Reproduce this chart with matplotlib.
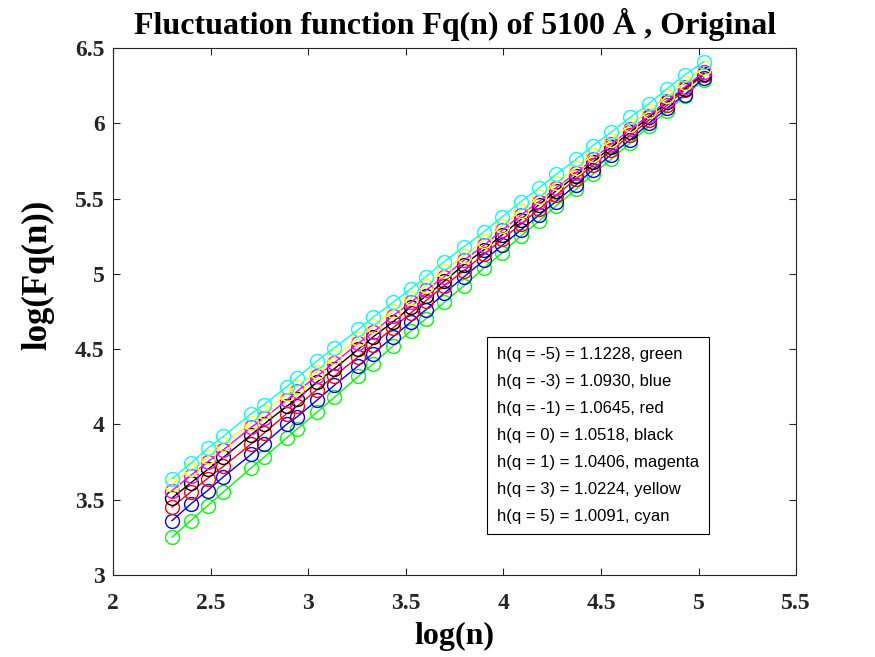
import matplotlib
matplotlib.use("Agg")
import matplotlib.pyplot as plt

log_n = [2.303, 2.398, 2.485, 2.565, 2.708, 2.773, 2.890, 2.944, 3.045, 3.135,
         3.258, 3.332, 3.434, 3.526, 3.602, 3.696, 3.798, 3.901, 3.995, 4.089,
         4.183, 4.269, 4.372, 4.457, 4.551, 4.650, 4.745, 4.839, 4.928, 5.027]

fq_green = [3.25, 3.36, 3.46, 3.55, 3.71, 3.78, 3.91, 3.97, 4.08, 4.18,
            4.32, 4.40, 4.52, 4.62, 4.70, 4.81, 4.92, 5.04, 5.14, 5.25,
            5.35, 5.45, 5.56, 5.66, 5.76, 5.87, 5.98, 6.08, 6.18, 6.29]
fq_blue = [3.36, 3.47, 3.56, 3.65, 3.80, 3.87, 4.00, 4.05, 4.16, 4.26,
           4.39, 4.47, 4.58, 4.68, 4.76, 4.87, 4.98, 5.09, 5.19, 5.29,
           5.39, 5.48, 5.59, 5.69, 5.79, 5.89, 6.00, 6.10, 6.19, 6.30]
fq_red = [3.45, 3.55, 3.64, 3.72, 3.87, 3.94, 4.07, 4.12, 4.23, 4.32,
          4.45, 4.53, 4.64, 4.74, 4.82, 4.92, 5.02, 5.13, 5.23, 5.33,
          5.43, 5.52, 5.63, 5.72, 5.82, 5.92, 6.02, 6.12, 6.22, 6.32]
fq_black = [3.51, 3.61, 3.70, 3.78, 3.93, 4.00, 4.12, 4.17, 4.28, 4.37,
            4.50, 4.58, 4.68, 4.78, 4.85, 4.95, 5.06, 5.16, 5.26, 5.36,
            5.46, 5.55, 5.65, 5.74, 5.84, 5.94, 6.04, 6.14, 6.23, 6.33]
fq_magenta = [3.56, 3.66, 3.75, 3.83, 3.98, 4.04, 4.16, 4.22, 4.32, 4.41,
              4.54, 4.61, 4.72, 4.81, 4.89, 4.98, 5.09, 5.19, 5.29, 5.39,
              5.48, 5.57, 5.67, 5.76, 5.86, 5.96, 6.05, 6.15, 6.24, 6.34]
fq_yellow = [3.60, 3.70, 3.78, 3.87, 4.01, 4.08, 4.20, 4.25, 4.35, 4.45,
             4.57, 4.65, 4.75, 4.84, 4.92, 5.02, 5.12, 5.22, 5.32, 5.42,
             5.51, 5.60, 5.70, 5.79, 5.89, 5.99, 6.08, 6.18, 6.27, 6.37]
fq_cyan = [3.64, 3.74, 3.84, 3.92, 4.07, 4.13, 4.25, 4.31, 4.42, 4.51,
           4.63, 4.71, 4.81, 4.90, 4.98, 5.08, 5.18, 5.28, 5.38, 5.48,
           5.57, 5.66, 5.76, 5.85, 5.94, 6.04, 6.13, 6.23, 6.32, 6.41]

series = [fq_green, fq_blue, fq_red, fq_black, fq_magenta, fq_yellow, fq_cyan]
colors = ['#00ff00', '#0000ff', '#ff0000', '#000000', '#ff00ff', '#ffff00', '#00ffff']

q_values = [-5, -3, -1, 0, 1, 3, 5]
h_values = ['1.1228', '1.0930', '1.0645', '1.0518', '1.0406', '1.0224', '1.0091']
color_names = ['green', 'blue', 'red', 'black', 'magenta', 'yellow', 'cyan']

x_ticks = [2, 2.5, 3, 3.5, 4, 4.5, 5, 5.5]
y_ticks = [3, 3.5, 4, 4.5, 5, 5.5, 6, 6.5]

fig = plt.figure(figsize=(8.75, 6.57), dpi=100)
ax = fig.add_axes([0.129, 0.125, 0.781, 0.802])

for ys, c in zip(series, colors):
    ax.plot(log_n, ys, color=c, marker='o', markerfacecolor='none',
            markeredgecolor=c, markersize=10, linewidth=1.0, markeredgewidth=1.0)

ax.set_xlim(2, 5.5)
ax.set_ylim(3, 6.5)
ax.set_xticks(x_ticks)
ax.set_yticks(y_ticks)
ax.set_xticklabels([f'{t:g}' for t in x_ticks])
ax.set_yticklabels([f'{t:g}' for t in y_ticks])

serif = ['Liberation Serif', 'DejaVu Serif']
for lab in ax.get_xticklabels() + ax.get_yticklabels():
    lab.set_fontfamily(serif)
    lab.set_fontweight('bold')
    lab.set_fontsize(17)
    lab.set_color('#262626')

ax.tick_params(direction='in', top=True, right=True, length=5, width=0.8,
               color='#262626')
ax.tick_params(axis='x', pad=13)
ax.tick_params(axis='y', pad=6)
for s in ax.spines.values():
    s.set_color('#262626')
    s.set_linewidth(0.8)

ax.set_title('Fluctuation function Fq(n) of 5100 \u00c5 , Original',
             fontfamily=serif, fontweight='bold', fontsize=23, pad=10)
ax.set_xlabel('log(n)', fontfamily=serif, fontweight='bold', fontsize=23, labelpad=6)
ax.set_ylabel('log(Fq(n))', fontfamily=serif, fontweight='bold', fontsize=25)
ax.yaxis.set_label_coords(-0.085, 0.57)

lines = [f'h(q = {q}) = {h}, {n}' for q, h, n in zip(q_values, h_values, color_names)]
ax.text(0.562, 0.432, '\n'.join(lines), transform=ax.transAxes,
        fontfamily=['Liberation Sans', 'DejaVu Sans'], fontsize=12.0,
        va='top', ha='left', linespacing=2.0,
        bbox=dict(boxstyle='square,pad=0.6', facecolor='white', edgecolor='black', linewidth=0.8))

fig.savefig('out.png', dpi=100, facecolor='white')
